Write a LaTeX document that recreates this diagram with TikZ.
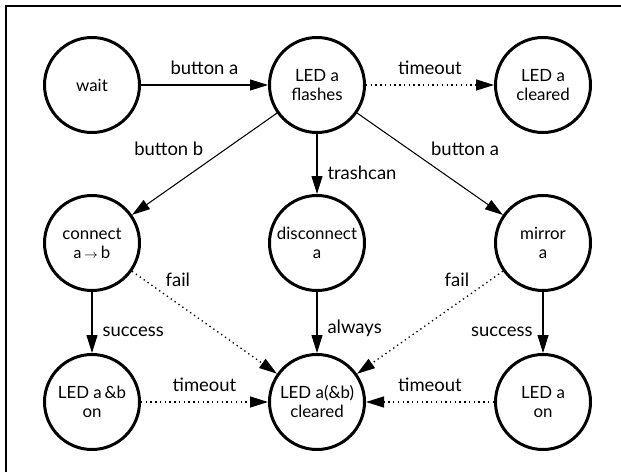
\documentclass[tikz,border=0pt]{standalone}
\usepackage{fontspec}
\setmainfont{Lato}
\usetikzlibrary{arrows.meta}

\begin{document}
\begin{tikzpicture}[
    state/.style={shape=circle,draw=black,line width=1.7pt,minimum size=1.9cm,inner sep=0pt,align=center,font=\fontsize{9.6}{10.8}\selectfont},
    trans/.style={line width=0.6pt,-{Triangle[length=0.36cm,width=0.22cm]}},
    tmo/.style={trans,line width=0.75pt,dash pattern=on 0.75pt off 1.95pt},
    lbl/.style={inner sep=0.2cm,font=\fontsize{10.5}{12}\selectfont},
    diag/.style={lbl,inner sep=0.1cm}]
    \useasboundingbox (0,0) rectangle (12.42,9.44);
    \draw[line width=0.6pt] (0.12,0) -- (0.12,9.32) -- (12.42,9.32);

    \node[state] (wait) at (1.84,7.74) {wait};
    \node[state] (flash) at (6.34,7.74) {LED a\\flashes};
    \node[state] (clrA) at (10.86,7.74) {LED a\\cleared};
    \node[state] (conn) at (1.84,4.58) {connect\\{\small a\,}{\scriptsize$\rightarrow$}\,b};
    \node[state] (disc) at (6.34,4.58) {disconnect\\a};
    \node[state] (mirr) at (10.86,4.58) {mirror\\a};
    \node[state] (onAB) at (1.84,1.40) {LED a\,\&b\\on};
    \node[state] (clr) at (6.34,1.40) {LED a(\&b)\\cleared};
    \node[state] (onA) at (10.86,1.40) {LED a\\on};

    \draw[trans] (wait) to node[lbl,above] (lwait) {button a} (flash);
    \draw[tmo] (flash) to node[lbl,above] (lflto) {timeout} (clrA);
    \draw[trans] (flash) to node[diag,pos=0.47,above left] (lbtnb) {button b} (conn);
    \draw[trans] (flash) to node[lbl,pos=0.65,right] (ltrash) {trashcan} (disc);
    \draw[trans] (flash) to node[diag,pos=0.47,above right] (lbtna) {button a} (mirr);
    \draw[tmo] (conn) to node[diag,inner sep=0.08cm,pos=0.2,above right] (lfail1) {fail} (clr);
    \draw[tmo] (mirr) to node[diag,inner sep=0.08cm,pos=0.2,above left] (lfail2) {fail} (clr);
    \draw[trans] (conn) to node[lbl,pos=0.65,right] (lsucc1) {success} (onAB);
    \draw[trans] (disc) to node[lbl,pos=0.6,right] (lalw) {always} (clr);
    \draw[trans] (mirr) to node[lbl,pos=0.65,left] (lsucc2) {success} (onA);
    \draw[tmo] (onAB) to node[lbl,above] (ltmo1) {timeout} (clr);
    \draw[tmo] (onA) to node[lbl,above] (ltmo2) {timeout} (clr);
\end{tikzpicture}
\end{document}
